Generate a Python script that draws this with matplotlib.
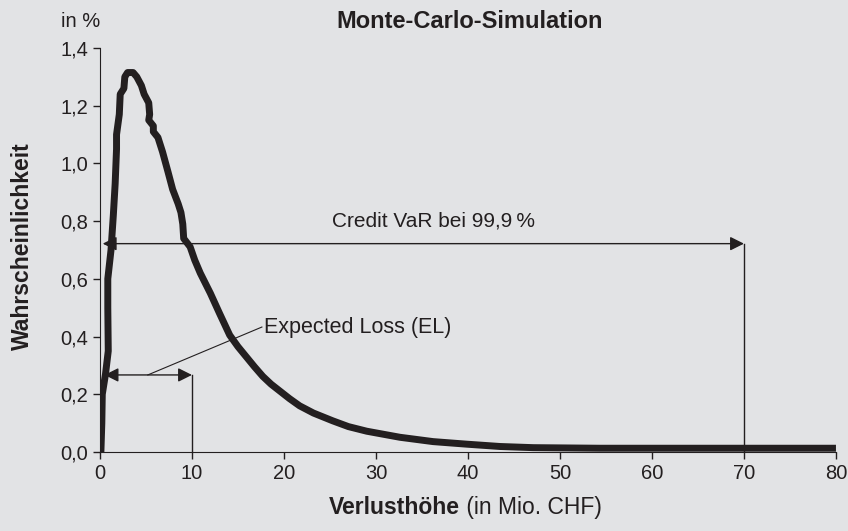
import matplotlib
matplotlib.use("Agg")
import matplotlib.pyplot as plt
from matplotlib.ticker import FuncFormatter

# Simulated loss distribution
loss_x = [0.1, 0.2, 0.25, 0.6, 0.9, 0.85, 0.85, 1.2, 1.45, 1.65, 1.8, 1.8,
          2.1, 2.2, 2.6, 2.7, 3.0, 3.6, 4.0, 4.5, 4.8, 5.3, 5.4, 5.3, 5.8,
          5.8, 6.3, 6.8, 7.4, 7.9, 8.5, 8.8, 9.0, 9.1, 9.8, 10.3, 10.9,
          12.0, 13.0, 14.1, 15.0, 15.9, 16.8, 17.7, 18.6, 19.6, 20.6, 21.7,
          23.2, 25.3, 27.0, 29.0, 32.6, 36.2, 39.9, 43.5, 47.1, 54.3, 80.0]
prob_y = [0.0, 0.1, 0.2, 0.27, 0.35, 0.5, 0.6, 0.7, 0.82, 0.93, 1.05, 1.1,
          1.17, 1.24, 1.26, 1.3, 1.315, 1.315, 1.3, 1.27, 1.24, 1.21, 1.17,
          1.15, 1.13, 1.11, 1.09, 1.04, 0.97, 0.91, 0.86, 0.83, 0.79, 0.74,
          0.711, 0.665, 0.62, 0.55, 0.48, 0.405, 0.365, 0.33, 0.295, 0.262,
          0.235, 0.21, 0.185, 0.16, 0.135, 0.108, 0.088, 0.072, 0.051,
          0.036, 0.027, 0.019, 0.015, 0.013, 0.013]

x_ticks = [0, 10, 20, 30, 40, 50, 60, 70, 80]
y_ticks = [0.0, 0.2, 0.4, 0.6, 0.8, 1.0, 1.2, 1.4]

expected_loss = 10
credit_var = 70
el_level = 0.267
var_level = 0.722

bg = "#e2e3e5"
ink = "#231f20"
plt.rcParams["font.family"] = ["Liberation Sans", "DejaVu Sans"]

fig = plt.figure(figsize=(8.48, 5.31), dpi=100, facecolor=bg)
ax = fig.add_axes([0.1179, 0.1488, 0.8679, 0.7608])
ax.set_facecolor(bg)

ax.plot(loss_x, prob_y, color=ink, lw=5, solid_joinstyle="round",
        solid_capstyle="butt", zorder=3)

arrow = dict(arrowstyle="<|-|>", color=ink, lw=1, mutation_scale=21,
             shrinkA=0, shrinkB=0)

# Credit VaR
ax.annotate("", xy=(0.3, var_level), xytext=(credit_var, var_level),
            arrowprops=arrow, zorder=4)
ax.plot([credit_var, credit_var], [0, var_level], color=ink, lw=1)
ax.text(36.2, 0.80, "Credit VaR bei 99,9\u2009%", fontsize=15, color=ink,
        ha="center", va="center")

# Expected loss
ax.annotate("", xy=(0.5, el_level), xytext=(expected_loss, el_level),
            arrowprops=arrow, zorder=4)
ax.plot([expected_loss, expected_loss], [0, el_level], color=ink, lw=1)
ax.plot([5.2, 17.6], [el_level, 0.433], color=ink, lw=0.8)
ax.text(17.8, 0.433, "Expected Loss (EL)", fontsize=15.5, color=ink,
        ha="left", va="center")

ax.set_xlim(0, 80)
ax.set_ylim(0, 1.4)
ax.set_xticks(x_ticks)
ax.set_yticks(y_ticks)
ax.yaxis.set_major_formatter(FuncFormatter(lambda v, p: ("%.1f" % v).replace(".", ",")))
ax.tick_params(colors=ink, labelsize=14.5, length=5, width=1, direction="out")
ax.spines["top"].set_visible(False)
ax.spines["right"].set_visible(False)
ax.spines["left"].set_color(ink)
ax.spines["bottom"].set_color(ink)
ax.spines["left"].set_bounds(0, 1.4)
ax.margins(0)

fig.text(0.072, 0.960, "in %", fontsize=14.5, color=ink, ha="left", va="center")
fig.text(0.554, 0.960, "Monte-Carlo-Simulation", fontsize=17, weight="bold",
         color=ink, ha="center", va="center")
fig.text(0.0265, 0.536, "Wahrscheinlichkeit", fontsize=16.5, weight="bold",
         color=ink, rotation=90, ha="center", va="center")

# x label: bold part + normal part
fig.text(0.5425, 0.044, "Verlusthöhe", fontsize=16.5, weight="bold",
         color=ink, ha="right", va="center")
fig.text(0.5425, 0.044, " (in Mio. CHF)", fontsize=16.5, color=ink,
         ha="left", va="center")

fig.savefig("out.png", dpi=100, facecolor=bg)
